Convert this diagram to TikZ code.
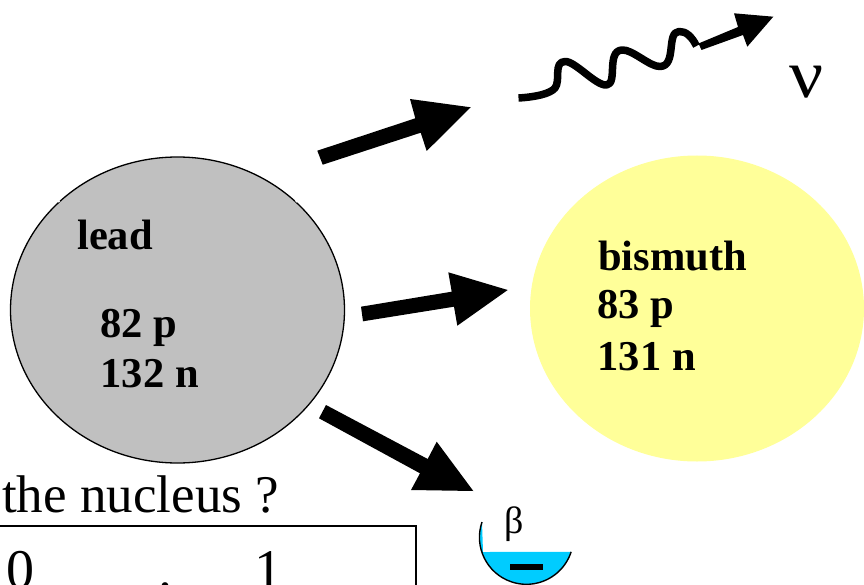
\documentclass[tikz,border=0pt]{standalone}
\usepackage{fontspec}
\setmainfont{Liberation Serif}
\definecolor{leadgrey}{HTML}{C0C0C0}
\definecolor{bismuthyellow}{HTML}{FFFF99}
\definecolor{betacyan}{HTML}{00CCFF}
\tikzset{
  px/.style={x=1pt,y=-1pt},
  label/.style={font=\bfseries\fontsize{42.5}{46}\selectfont,anchor=base west,inner sep=0pt},
  plain/.style={font=\fontsize{53}{56}\selectfont,anchor=base west,inner sep=0pt},
  digit/.style={font=\fontsize{56}{60}\selectfont,anchor=base west,inner sep=0pt},
  head/.style={fill=black,draw=none},
  nucleus/.style={ellipse,minimum width=334pt,minimum height=306pt,inner sep=0pt}
}
\usetikzlibrary{shapes.geometric}
\begin{document}
\begin{tikzpicture}[px]
\useasboundingbox (0,0) rectangle (864,585);
% nuclei
\node[nucleus,draw=black,line width=1.3pt,fill=leadgrey] (lead) at (177.5,310) {};
\draw[white,line width=2pt] (57.5,200) -- (59.5,202);
\draw[white,line width=2pt] (295.5,200) -- (297.5,202);
\node[nucleus,fill=bismuthyellow] (bismuth) at (697,308.5) {};
\node[label] (t1) at (77,249.5) {lead};
\node[label] (t2) at (100,337) {82 p};
\node[label] (t3) at (100.5,387) {132 n};
\node[label] (t4) at (598,270) {bismuth};
\node[label] (t5) at (597.5,318) {83 p};
\node[label] (t6) at (597.5,370) {131 n};
% straight arrows
\fill[head] (317.3,150.7) -- (415.3,118.3) -- (410,99) -- (470.7,107.3) -- (426.7,151) -- (420.7,132.7) -- (322.7,164.7) -- cycle;
\fill[head] (361,306.7) -- (451.7,291.7) -- (448.3,272.3) -- (507.7,290) -- (457.3,325.7) -- (454,306.7) -- (363,321.3) -- cycle;
\fill[head] (326,405) -- (427.7,459) -- (436.7,441.7) -- (473.3,491) -- (411,490) -- (420,473.3) -- (319,418.3) -- cycle;
% wavy neutrino
\draw[line width=7.5pt,line join=round] (518.5,98) .. controls (535,97) and (550,94) .. (555,88)
 .. controls (561,80) and (553,62) .. (565,61.5)
 .. controls (575,61) and (596,86) .. (606.5,85)
 .. controls (618,84) and (606,51) .. (622,50)
 .. controls (632,49) and (650,67) .. (660,66.5)
 .. controls (677,66) and (666,32) .. (679,31.5)
 .. controls (686,31) and (692,37) .. (696.5,46);
\fill[head] (698.5,43.5) -- (738,27) -- (734,13.3) -- (773.3,16.7) -- (747.3,46.7) -- (743,35) -- (701.5,50) -- cycle;
\node[inner sep=0pt,anchor=base west,font=\fontsize{58}{60}\selectfont] (nu) at (789,98) {\scalebox{1.3}[1.18]{ν}};
% beta
\fill[betacyan] (482,522) arc (161:342:47pt) -- (483,552) -- cycle;
\fill[white] (483,552) rectangle (490,540);
\draw[line width=1.4pt] (482,522) arc (161:342:47pt);
\fill[head] (510,564) rectangle (543,570);
\node[inner sep=0pt,anchor=base west,font=\fontsize{38}{40}\selectfont] (beta) at (504,533) {β};
% question
\node[plain] (q) at (2,512) {the nucleus ?};
\draw[line width=1.3pt] (0,526) -- (416,526) -- (416,586);
\node[digit] (n0) at (6.5,588) {0};
\node[digit] (dot) at (158,588) {.};
\node[digit] (n1) at (254,588) {1};
\end{tikzpicture}
\end{document}
